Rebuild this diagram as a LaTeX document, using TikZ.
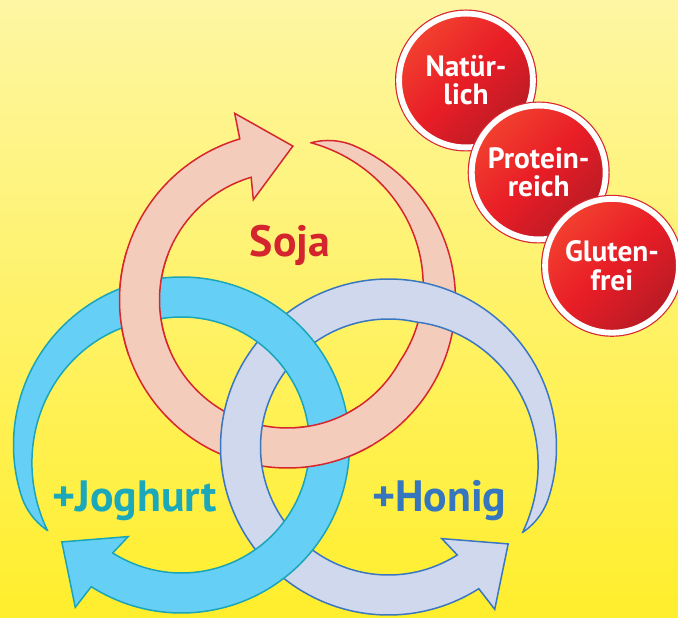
\documentclass[tikz,border=0pt]{standalone}
\usepackage{fontspec}
\setmainfont{PT Sans}
\definecolor{bgTop}{HTML}{FEF6A3}
\definecolor{bgBot}{HTML}{FFEE2C}
\definecolor{sojaF}{HTML}{F3CCBB}
\definecolor{sojaL}{HTML}{D7262E}
\definecolor{jogF}{HTML}{66CFF5}
\definecolor{jogL}{HTML}{1AA5B9}
\definecolor{honF}{HTML}{CFD8EC}
\definecolor{honL}{HTML}{3A77C0}
\definecolor{sojaT}{HTML}{D4252E}
\definecolor{jogT}{HTML}{1BA8BB}
\definecolor{honT}{HTML}{3576BE}
\definecolor{badgeA}{HTML}{F2402F}
\definecolor{badgeM}{HTML}{E81D26}
\definecolor{badgeB}{HTML}{B81B25}
\definecolor{badgeO}{HTML}{D9262E}
\newcommand\ringshape{plot[domain=0:335,samples=240] ({212.5-\x}:{168-9*tpo(\x)*tpo(\x)}) -- (236.8:194) -- (219:154) -- (239.8:106) -- plot[domain=335:0,samples=240] ({212.5-\x}:{128+31*tpi(\x)*(0.8+0.2*tpi(\x))}) -- cycle}
\begin{document}
\begin{tikzpicture}[x=1bp,y=1bp,
  declare function={tpo(\s)=max(0,1-\s/15); tpi(\s)=max(0,1-\s/110);},
  ring/.style={line width=1.5bp},
  badge/.style={circle, inner sep=0pt, minimum size=133.8bp,
    top color=badgeA, bottom color=badgeB, middle color=badgeM, shading angle=45,
    draw=white, line width=5.8bp, preaction={draw=badgeO, line width=8.2bp},
    text=white, align=center, font=\fontsize{29.5}{28.3}\selectfont\bfseries},
  lbl/.style={inner sep=0pt, anchor=base, font=\fontsize{44}{44}\selectfont\bfseries}]
\useasboundingbox (0,0) rectangle (678,618);
\shade[top color=bgTop, bottom color=bgBot] (0,0) rectangle (678,618);
% Soja ring
\begin{scope}[shift={(287.5,318)}, rotate=-131]
  \filldraw[ring, fill=sojaF, draw=sojaL] \ringshape;
\end{scope}
% Honig ring
\begin{scope}[shift={(388.5,171)}, xscale=-1]
  \filldraw[ring, fill=honF, draw=honL] \ringshape;
\end{scope}
% Joghurt ring
\begin{scope}[shift={(181.5,173)}]
  \filldraw[ring, fill=jogF, draw=jogL] \ringshape;
\end{scope}
% Soja over Joghurt at their crossings
\begin{scope}
  \clip (145,315) circle[radius=55] (331,179) circle[radius=42];
  \begin{scope}[shift={(287.5,318)}, rotate=-131]
    \filldraw[ring, fill=sojaF, draw=sojaL] \ringshape;
  \end{scope}
\end{scope}
% labels
\node[lbl, text=sojaT] (soja) at (290,361.3) {Soja};
\node[lbl, text=jogT] (jog) at (134.7,106.3) {+Joghurt};
\node[lbl, text=honT] (hon) at (439.3,106.3) {+Honig};
% badges
\node[badge] (b1) at (466,537.5) {Natür-\\lich};
\node[badge] (b2) at (538.7,445.5) {Protein-\\reich};
\node[badge] (b3) at (612,352.2) {Gluten-\\frei};
\end{tikzpicture}
\end{document}
